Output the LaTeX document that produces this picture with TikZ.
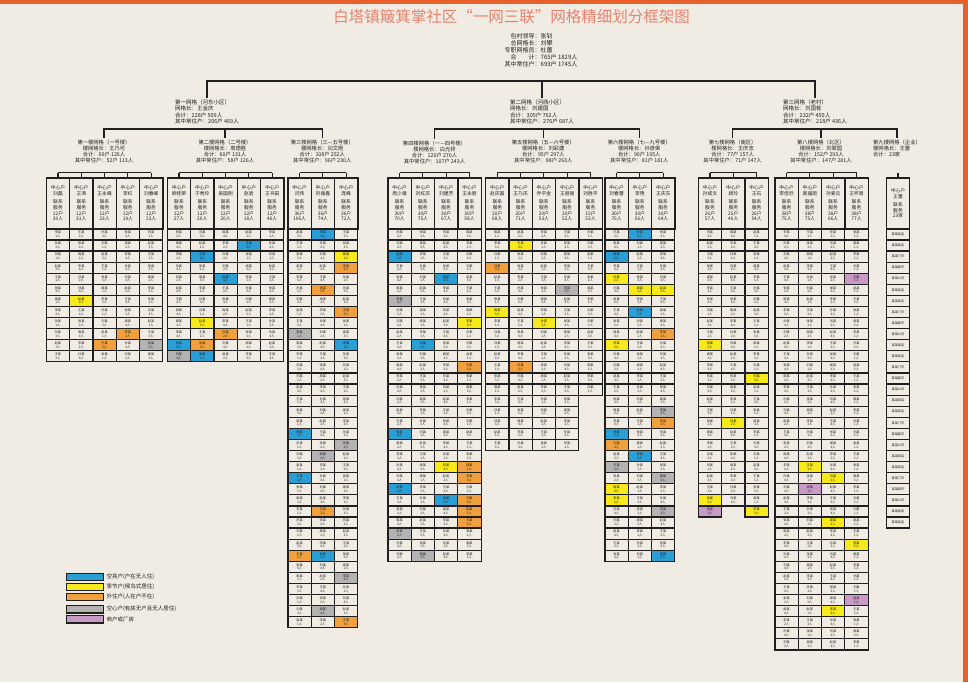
\documentclass[tikz,border=0pt]{standalone}
\usepackage{fontspec}
\setmainfont{Noto Sans CJK SC}
\usepackage{tikz}
\usetikzlibrary{positioning, calc}

\definecolor{pagebg}{HTML}{F0ECE3}
\definecolor{rim}{HTML}{E8602C}
\definecolor{titlec}{HTML}{E8836F}
\definecolor{ink}{HTML}{1F1F1F}
\definecolor{kongc}{HTML}{2A9FD6}
\definecolor{jic}{HTML}{F7E91A}
\definecolor{waic}{HTML}{F0A03C}
\definecolor{xinc}{HTML}{B3B3B3}
\definecolor{shangc}{HTML}{C79BC6}

\def\colw{23.3}
\def\rowh{11.08}
\def\celltop{228.3}
\def\headtop{177.3}
\def\busline{172.7}

\newcommand\cellname[1]{\ifcase#1 王某\or 刘某\or 李某\or 张某\or 赵某\or 孙某\or 周某\fi}
\newcommand\firmname[1]{\ifcase#1 某某公司\or 某某商店\or 某某超市\or 某某饭店\or 某某门市\fi}

% cells of one building grid: #1 grid, #2 left x, #3 rows per column
\newcommand\blockcells[3]{%
  \foreach \nr [count=\ci] in {#3} {
    \foreach \ri in {1,...,\nr} {
      \pgfmathtruncatemacro\nk{mod(\ci*5+\ri*3+#1,7)}
      \pgfmathtruncatemacro\np{mod(\ci+\ri*2+#1,4)+1}
      \node[cell] (g#1c\ci r\ri) at ({#2+(\ci-1)*\colw},{\celltop+(\ri-1)*\rowh}) {\cellname{\nk}\\\np 人};
    }
  }%
}

% column heads of one building grid, with their bus
\newcommand\blockheads[3]{%
  \coordinate (bus#1) at (0,\busline);
  \foreach \nm/\tail [count=\ci] in {#3} {
    \node[head] (g#1h\ci) at ({#2+(\ci-1)*\colw},\headtop) {中心户\\\nm\\[3pt]联系\\服务\\\tail};
    \draw[link] (g#1h\ci.north) -- (g#1h\ci.north |- bus#1);
    \ifnum\ci>1
      \pgfmathtruncatemacro\pc{\ci-1}
      \draw[link] (g#1h\pc.north |- bus#1) -- (g#1h\ci.north |- bus#1);
    \fi
  }%
}

\begin{document}
\begin{tikzpicture}[
    x=1pt, y=-1pt,
    link/.style={draw=ink, line width=1.1pt},
    cell/.style={draw=ink, line width=1.2pt, anchor=north west, minimum width=23.3pt, minimum height=11.08pt, inner sep=0pt, align=center, text=ink, font=\fontsize{3.2pt}{3.7pt}\selectfont},
    head/.style={draw=ink, line width=1.3pt, anchor=north west, minimum width=23.3pt, minimum height=51pt, inner sep=0pt, align=center, text=ink, font=\fontsize{4.8pt}{5.6pt}\selectfont},
    toptext/.style={inner sep=0pt, text=ink, font=\fontsize{6pt}{6.5pt}\selectfont},
    wtext/.style={anchor=north, inner sep=1.5pt, align=left, text=ink, font=\fontsize{5.5pt}{6.4pt}\selectfont},
    loutext/.style={anchor=north, inner sep=1.5pt, align=center, text=ink, font=\fontsize{5.3pt}{6.1pt}\selectfont},
    legbox/.style={draw=ink, line width=1.2pt, minimum width=36.6pt, minimum height=7.4pt, inner sep=0pt},
    legtext/.style={inner sep=0pt, text=ink, font=\fontsize{5.5pt}{6pt}\selectfont},
    kong/.style={fill=kongc},
    ji/.style={fill=jic},
    wai/.style={fill=waic},
    xin/.style={fill=xinc},
    shang/.style={fill=shangc}
]
    \useasboundingbox (0,0) rectangle (968,682);
    \fill[pagebg] (0,0) rectangle (968,682);
    \fill[rim] (0,0) rectangle (968,4.5);
    \fill[rim] (963,0) rectangle (968,682);

    % Title
    \node[text=titlec, font=\fontsize{15.5pt}{16pt}\selectfont] (title) at (511.5,17) {白塔镇簸箕掌社区“一网三联”网格精细划分框架图};

    % Community
    \node[toptext] (leader) at (541,51) {\begin{tabular}{@{}r@{}l@{}}包村领导：&张钊\\总网格长：&刘攀\\专职网格员：&杜蕾\\合\hspace{2em}计：&765户\ 1829人\\其中常住户：&693户\ 1745人\end{tabular}};

    % Grids
    \node[wtext] (w1) at (207,98) {第一网格（河东小区）\\网格长：王金庆\\合计：228户 509人\\其中常住户：206户 469人};
    \node[wtext] (w2) at (542,98) {第二网格（河西小区）\\网格长：刘建国\\合计：305户 762人\\其中常住户：276户 687人};
    \node[wtext] (w3) at (815,98) {第三网格（老村）\\网格长：刘国栋\\合计：232户 450人\\其中常住户：218户 436人};

    \coordinate (topbus) at (0,81);
    \draw[link] (w1.north) |- (w3.north |- topbus) -- (w3.north);
    \draw[link] (w2.north) -- (w2.north |- topbus);

    % Building grids
    \node[loutext] (lou1) at (104,138) {第一楼网格（一号楼）\\楼网格长：王乃可\\合计：60户 126人\\其中常住户：52户 113人};
    \node[loutext] (lou2) at (225,138) {第二楼网格（二号楼）\\楼网格长：周德胜\\合计：60户 131人\\其中常住户：58户 126人};
    \node[loutext] (lou3) at (322.3,138) {第三楼网格（三—五号楼）\\楼网格长：闫文刚\\合计：108户 252人\\其中常住户：96户 230人};
    \node[loutext] (lou4) at (434.5,139) {第四楼网格（一—四号楼）\\楼网格长：白光祥\\合计：120户 270人\\其中常住户：107户 243人};
    \node[loutext] (lou5) at (543.3,138) {第五楼网格（五—六号楼）\\楼网格长：刘彩建\\合计：95户 297人\\其中常住户：88户 263人};
    \node[loutext] (lou6) at (639.3,138) {第六楼网格（七—九号楼）\\楼网格长：孙彦荣\\合计：90户 195人\\其中常住户：81户 181人};
    \node[loutext] (lou7) at (732.6,138) {第七楼网格（南区）\\楼网格长：王庆忠\\合计：77户 157人\\其中常住户：71户 147人};
    \node[loutext] (lou8) at (821,138) {第八楼网格（北区）\\楼网格长：刘翠园\\合计：152户 293人\\其中常住户：147户 281人};
    \node[loutext, align=left] (lou9) at (897,138) {第九楼网格（企业）\\楼网格长：王蕾\\合计：23家};

    \coordinate (midbus) at (0,129);
    \draw[link] (lou1.north) |- (lou3.north |- midbus) -- (lou3.north);
    \draw[link] (lou2.north) -- (lou2.north |- midbus);
    \draw[link] (lou4.north) |- (lou6.north |- midbus) -- (lou6.north);
    \draw[link] (lou5.north) -- (lou5.north |- midbus);
    \draw[link] (lou7.north) |- (lou9.north |- midbus) -- (lou9.north);
    \draw[link] (lou8.north) -- (lou8.north |- midbus);

    % Household types
    \foreach \g/\ci/\ri/\kind in {
        1/2/7/ji, 1/4/10/wai, 1/3/11/wai, 1/5/11/xin,
        2/4/2/kong, 2/2/3/kong, 2/3/5/kong, 2/2/9/ji, 2/3/10/wai, 2/1/11/kong, 2/2/11/wai, 2/1/12/xin, 2/2/12/kong,
        3/2/1/kong, 3/3/3/ji, 3/3/4/wai, 3/2/6/wai, 3/3/8/wai, 3/1/10/xin, 3/3/11/kong,
        3/1/19/kong, 3/3/20/xin, 3/2/21/xin, 3/1/23/kong, 3/2/26/wai, 3/1/30/wai, 3/2/30/kong, 3/3/32/xin, 3/2/35/xin, 3/3/36/wai,
        4/1/3/kong, 4/3/5/kong, 4/1/7/xin, 4/4/9/ji, 4/2/11/kong,
        4/4/13/wai, 4/1/19/kong, 4/3/22/ji, 4/4/22/wai, 4/4/23/wai, 4/1/24/kong, 4/3/25/kong, 4/4/25/wai, 4/4/26/wai, 4/4/27/wai, 4/1/28/xin, 4/2/30/xin,
        5/2/2/ji, 5/1/4/wai, 5/4/6/xin, 5/1/8/ji, 5/3/9/ji, 5/2/13/wai,
        6/2/1/kong, 6/1/3/kong, 6/1/5/ji, 6/2/6/ji, 6/3/6/ji, 6/2/8/kong, 6/3/10/wai, 6/1/11/ji,
        6/3/17/xin, 6/3/18/wai, 6/1/19/kong, 6/1/20/wai, 6/2/21/kong, 6/1/22/xin, 6/3/23/xin, 6/1/24/ji, 6/1/25/ji, 6/3/26/xin, 6/3/30/kong,
        7/1/11/ji, 7/3/14/ji, 7/2/18/ji, 7/1/25/ji, 7/1/26/shang, 7/3/26/ji,
        8/4/5/shang, 8/2/22/ji, 8/3/23/ji, 8/2/24/shang, 8/3/27/ji, 8/4/29/ji, 8/4/34/shang, 8/3/35/ji} {
        \pgfmathsetmacro\gx{{45.7,166.7,287.3,387.3,485,604.3,697.7,774.3,885.7}[\g-1]}
        \fill[\kind] ({\gx+(\ci-1)*\colw},{\celltop+(\ri-1)*\rowh}) rectangle ++(\colw,\rowh);
    }

    % Columns
    \blockheads{1}{45.7}{刘磊/12户\\30人, 王涛/12户\\31人, 王永峰/12户\\23人, 李红/12户\\19人, 刘春峰/12户\\23人}
    \blockcells{1}{45.7}{12,12,12,12,12}
    \blockheads{2}{166.7}{顾桂荣/12户\\27人, 于秀玲/12户\\20人, 吴国刚/12户\\20人, 赵岩/12户\\18人, 王书田/12户\\46人}
    \blockcells{2}{166.7}{12,12,12,12,12}
    \blockheads{3}{287.3}{闫伟/36户\\106人, 刘振鑫/36户\\74人, 庞峰/36户\\72人}
    \blockcells{3}{287.3}{36,36,36}
    \blockheads{4}{387.3}{周少雄/30户\\70人, 刘红庆/30户\\75人, 刘建芳/30户\\67人, 王永丽/30户\\58人}
    \blockcells{4}{387.3}{30,30,30,30}
    \blockheads{5}{485}{赵庆国/20户\\68人, 王乃庆/20户\\71人, 乔平金/20户\\53人, 王丽丽/20户\\52人, 刘胜平/15户\\53人}
    \blockcells{5}{485}{20,20,20,20,15}
    \blockheads{6}{604.3}{刘春蕾/30户\\75人, 李艳/30户\\56人, 王庆东/30户\\64人}
    \blockcells{6}{604.3}{30,30,30}
    \blockheads{7}{697.7}{孙成文/26户\\57人, 顾玲/25户\\46人, 王石/26户\\54人}
    \blockcells{7}{697.7}{26,25,26}
    \blockheads{8}{774.3}{李佳欣/38户\\75人, 高福雨/38户\\75人, 孙爱云/38户\\66人, 王怀周/38户\\77人}
    \blockcells{8}{774.3}{38,38,38,38}
    \blockheads{9}{885.7}{王蕾/23家}
    \foreach \ri in {1,...,27} {
        \pgfmathtruncatemacro\nk{mod(\ri*3,5)}
        \node[cell] (g9c1r\ri) at (885.7,{\celltop+(\ri-1)*\rowh}) {\firmname{\nk}};
    }

    % Legend
    \node[legbox, kong] (legkong) at (85,577) {};
    \node[legbox, ji] (legji) at (85,587) {};
    \node[legbox, wai] (legwai) at (85,597) {};
    \node[legbox, xin] (legxin) at (85,609.2) {};
    \node[legbox, shang] (legshang) at (85,619.2) {};
    \node[legtext, right=2.5pt of legkong] (labkong) {空亮户(户在无人住)};
    \node[legtext, right=2.5pt of legji] (labji) {季节户(候鸟式居住)};
    \node[legtext, right=2.5pt of legwai] (labwai) {外住户(人在户不在)};
    \node[legtext, right=2.5pt of legxin] (labxin) {空心户(有房无户且无人居住)};
    \node[legtext, right=2.5pt of legshang] (labshang) {商户或厂房};
\end{tikzpicture}
\end{document}
